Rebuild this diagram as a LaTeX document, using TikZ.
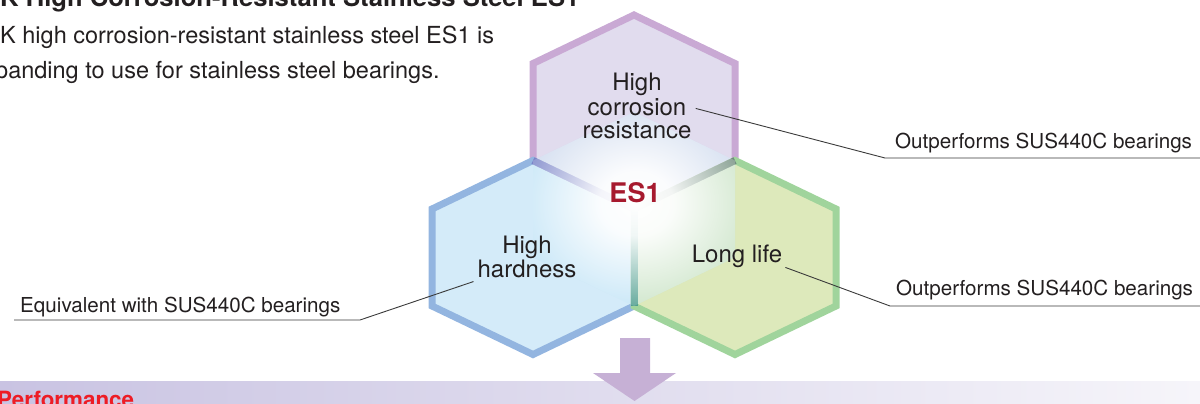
\documentclass[tikz,border=0pt]{standalone}
\usepackage{fontspec}
\setmainfont{TeX Gyre Heros}
\usepackage{tikz}
\usetikzlibrary{fadings}
\definecolor{inkgrey}{HTML}{231F20}
\definecolor{leadgrey}{HTML}{3A3A3A}
\definecolor{purpfill}{HTML}{E1DCEE}
\definecolor{purpline}{HTML}{C9A9D4}
\definecolor{bluefill}{HTML}{D4EBF9}
\definecolor{blueline}{HTML}{93B5E0}
\definecolor{greenfill}{HTML}{DDE9BB}
\definecolor{greenline}{HTML}{A0D49C}
\definecolor{pbedge}{HTML}{7A84C8}
\definecolor{pgedge}{HTML}{6F8C7C}
\definecolor{bgedge}{HTML}{4F9E8E}
\definecolor{tintcyan}{HTML}{8FD3F2}
\definecolor{esred}{HTML}{A6192E}
\definecolor{perfred}{HTML}{EE1C25}
\definecolor{arrowpurp}{HTML}{C6B0D5}
\definecolor{bandleft}{HTML}{C9C3E2}
\definecolor{bandright}{HTML}{F6F5FA}
\pgfdeclareradialshading{glowshade}{\pgfpointorigin}{color(0bp)=(white); color(7bp)=(white!92!black); color(25bp)=(black); color(50bp)=(black)}
\pgfdeclarefading{glowfade}{\pgfuseshading{glowshade}}
\tikzstyle{hexline}=[line width=7pt, line join=miter]
\tikzstyle{leader}=[draw=leadgrey, line width=0.9pt]
\tikzstyle{hexlabel}=[font=\fontsize{24}{24}\selectfont, align=center, text=inkgrey, inner sep=0pt, anchor=base]
\tikzstyle{sidelabel}=[font=\fontsize{20.6}{24}\selectfont, text=inkgrey, inner sep=0pt, anchor=base west]
\tikzstyle{introtext}=[font=\fontsize{23.5}{36}\selectfont, text=inkgrey, inner sep=0pt, anchor=base west]
\newcommand{\hexshape}{(0,-97) -- (101,-48.5) -- (101,48.5) -- (0,97) -- (-101,48.5) -- (-101,-48.5) -- cycle}

\begin{document}
\begin{tikzpicture}[x=1pt, y=-1pt]
        \useasboundingbox (0,0) rectangle (1200,404);
        % fills
        \fill[purpfill, shift={(634,112)}] \hexshape;
        \fill[bluefill, shift={(533,257.5)}] \hexshape;
        \fill[greenfill, shift={(735,257.5)}] \hexshape;
        \fill[tintcyan, opacity=0.22, shift={(634,209)}] \hexshape;
        % outlines
        \draw[hexline, purpline, shift={(634,112)}] \hexshape;
        \draw[hexline, blueline, shift={(533,257.5)}] \hexshape;
        \draw[hexline, greenline, shift={(735,257.5)}] \hexshape;
        \draw[hexline, pbedge] (533,160.5) -- (634,209);
        \draw[hexline, pgedge] (735,160.5) -- (634,209);
        \draw[hexline, bgedge] (634,209) -- (634,306);
        % glow
        \begin{scope}
            \clip[shift={(634,209)}] \hexshape;
            \fill[white, path fading=glowfade] (636,203) ellipse [x radius=132pt, y radius=116pt];
        \end{scope}
        % texts
        \node[anchor=base west, inner sep=0pt, text=inkgrey, font=\bfseries\fontsize{25.6}{28}\selectfont] (title) at (0,7) {K High Corrosion-Resistant Stainless Steel ES1};
        \node[introtext] (intro1) at (0,44) {K high corrosion-resistant stainless steel ES1 is};
        \node[introtext] (intro2) at (-5,79) {panding to use for stainless steel bearings.};
        \node[hexlabel] (corr) at (637,139) {High\\corrosion\\resistance};
        \node[hexlabel] (hard) at (527,277) {High\\hardness};
        \node[hexlabel] (life) at (737,262) {Long life};
        \node[anchor=base, inner sep=0pt, text=esred, font=\bfseries\fontsize{27}{27}\selectfont] (es1) at (635,202) {ES1};
        \node[sidelabel] (outcorr) at (895,148) {Outperforms SUS440C bearings};
        \node[sidelabel] (outlife) at (896,295) {Outperforms SUS440C bearings};
        \node[sidelabel] (equiv) at (20,312) {Equivalent with SUS440C bearings};
        % leaders
        \coordinate (kcorr) at (885,158);
        \coordinate (kcorrend) at (1200,158);
        \coordinate (klife) at (890,306);
        \coordinate (klifeend) at (1200,306);
        \coordinate (khard) at (360,320);
        \coordinate (khardend) at (14,320);
        \draw[leader] ([shift={(4,2)}]corr.east) -- (kcorr) -- (kcorrend);
        \draw[leader] ([xshift=3pt]life.south east) -- (klife) -- (klifeend);
        \draw[leader] ([shift={(-4,4)}]hard.south west) -- (khard) -- (khardend);
        % band and arrow
        \shade[left color=bandleft, right color=bandright] (0,381) rectangle (1200,404);
        \fill[arrowpurp] (620,338) -- (650,338) -- (650,373) -- (676,373) -- (634.5,401) -- (593,373) -- (620,373) -- cycle;
        \node[anchor=base west, inner sep=0pt, text=perfred, font=\bfseries\fontsize{22.4}{24}\selectfont] (perf) at (-3,407) {Performance};
    \end{tikzpicture}
\end{document}
